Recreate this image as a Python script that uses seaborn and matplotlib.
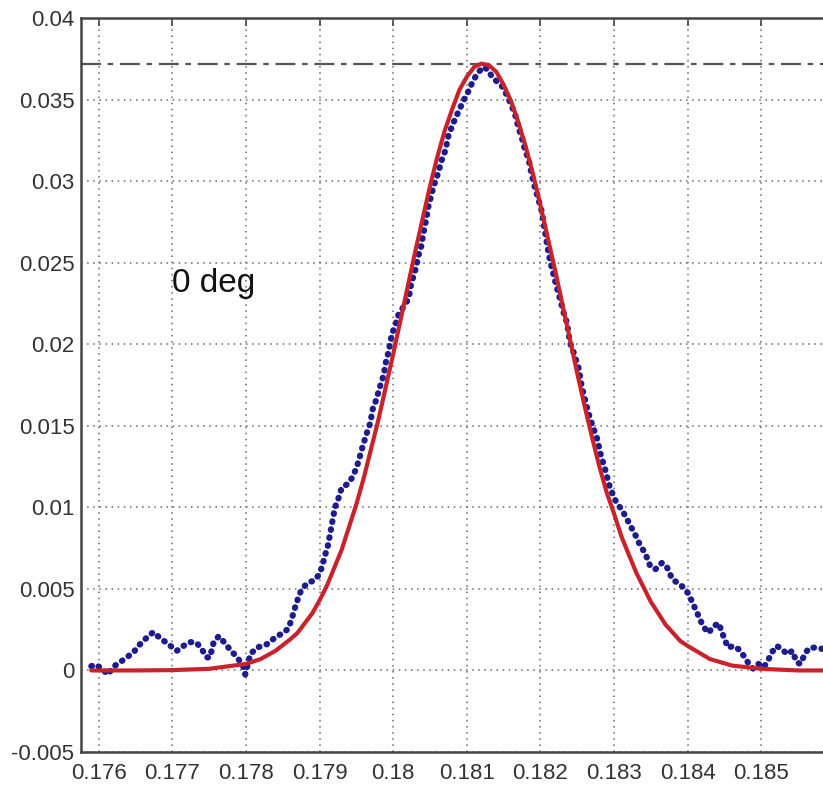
import matplotlib.pyplot as plt
import numpy as np
import pandas as pd
import seaborn as sns

meas_x = [0.17590, 0.17595, 0.17602, 0.17613, 0.17619, 0.17629, 0.17638, 0.17647,
          0.17656, 0.17665, 0.17674, 0.17683, 0.17692, 0.17706, 0.17715, 0.17724,
          0.17733, 0.17740, 0.17747, 0.17751, 0.17756, 0.17763, 0.17769, 0.17778,
          0.17788, 0.17796, 0.17799, 0.17806, 0.17815, 0.17828, 0.17842, 0.17851,
          0.17858, 0.17863, 0.17869, 0.17874, 0.17878, 0.17885, 0.17892, 0.17898,
          0.17903, 0.17907, 0.17911, 0.17914, 0.17918, 0.17921, 0.17926, 0.17930,
          0.17937, 0.17944, 0.17950, 0.17954, 0.17957, 0.17963, 0.17969, 0.17972,
          0.17977, 0.17982, 0.17987, 0.17990, 0.17994, 0.17998, 0.18003, 0.18007,
          0.18014, 0.18021, 0.18024, 0.18027, 0.18031, 0.18034, 0.18038, 0.18041,
          0.18045, 0.18048, 0.18055, 0.18061, 0.18066, 0.18071, 0.18075, 0.18082,
          0.18089, 0.18095, 0.18102, 0.18109, 0.18116, 0.18123, 0.18129, 0.18134,
          0.18141, 0.18148, 0.18154, 0.18161, 0.18166, 0.18170, 0.18175, 0.18179,
          0.18184, 0.18188, 0.18193, 0.18197, 0.18202, 0.18205, 0.18209, 0.18213,
          0.18218, 0.18222, 0.18227, 0.18231, 0.18236, 0.18240, 0.18245, 0.18252,
          0.18256, 0.18261, 0.18265, 0.18270, 0.18277, 0.18282, 0.18288, 0.18293,
          0.18299, 0.18304, 0.18310, 0.18316, 0.18323, 0.18330, 0.18335, 0.18342,
          0.18349, 0.18356, 0.18365, 0.18372, 0.18379, 0.18385, 0.18394, 0.18401,
          0.18408, 0.18415, 0.18421, 0.18428, 0.18435, 0.18442, 0.18446, 0.18451,
          0.18455, 0.18462, 0.18469, 0.18476, 0.18483, 0.18489, 0.18496, 0.18503,
          0.18508, 0.18514, 0.18521, 0.18528, 0.18535, 0.18542, 0.18548, 0.18553,
          0.18560, 0.18566, 0.18576, 0.18584, 0.18592]
meas_y = [0.00026, 0.00037, 0.00018, -0.00025, 0.00020, 0.00050, 0.00080, 0.00110,
          0.00160, 0.00200, 0.00235, 0.00200, 0.00170, 0.00120, 0.00150, 0.00174,
          0.00170, 0.00130, 0.00080, 0.00080, 0.00170, 0.00210, 0.00180, 0.00130,
          0.00080, 0.00030, -0.00025, 0.00100, 0.00140, 0.00160, 0.00210, 0.00230,
          0.00260, 0.00330, 0.00420, 0.00480, 0.00510, 0.00540, 0.00550, 0.00580,
          0.00630, 0.00700, 0.00760, 0.00830, 0.00930, 0.01000, 0.01060, 0.01120,
          0.01140, 0.01180, 0.01240, 0.01300, 0.01350, 0.01440, 0.01520, 0.01600,
          0.01660, 0.01740, 0.01810, 0.01890, 0.01960, 0.02060, 0.02120, 0.02180,
          0.02230, 0.02280, 0.02360, 0.02410, 0.02470, 0.02540, 0.02600, 0.02680,
          0.02770, 0.02850, 0.02970, 0.03050, 0.03130, 0.03190, 0.03280, 0.03360,
          0.03430, 0.03490, 0.03550, 0.03620, 0.03670, 0.03700, 0.03680, 0.03640,
          0.03610, 0.03580, 0.03530, 0.03460, 0.03400, 0.03330, 0.03260, 0.03190,
          0.03130, 0.03040, 0.02950, 0.02890, 0.02810, 0.02720, 0.02610, 0.02510,
          0.02420, 0.02350, 0.02270, 0.02200, 0.02130, 0.02010, 0.01950, 0.01850,
          0.01740, 0.01650, 0.01580, 0.01510, 0.01420, 0.01320, 0.01230, 0.01140,
          0.01070, 0.01020, 0.00990, 0.00940, 0.00880, 0.00820, 0.00770, 0.00720,
          0.00640, 0.00620, 0.00660, 0.00630, 0.00560, 0.00540, 0.00510, 0.00470,
          0.00400, 0.00330, 0.00270, 0.00230, 0.00270, 0.00290, 0.00240, 0.00180,
          0.00140, 0.00150, 0.00130, 0.00090, 0.00040, 0.00010, 0.00040, 0.00020,
          0.00050, 0.00110, 0.00150, 0.00130, 0.00100, 0.00120, 0.00050, 0.00040,
          0.00110, 0.00140, 0.00140, 0.00130, 0.00120]

# Fitted curve (red)
fit_x = [0.1759, 0.1765, 0.1770, 0.1775, 0.1780, 0.1782, 0.1784, 0.1786, 0.1787,
         0.1788, 0.1789, 0.1790, 0.1791, 0.1792, 0.1793, 0.1794, 0.1795, 0.1796,
         0.1797, 0.1798, 0.1799, 0.1800, 0.1801, 0.1802, 0.1803, 0.1804, 0.1805,
         0.1806, 0.1807, 0.1808, 0.1809, 0.1810, 0.1811, 0.1812, 0.1813, 0.1814,
         0.1815, 0.1816, 0.1817, 0.1818, 0.1819, 0.1820, 0.1821, 0.1822, 0.1823,
         0.1824, 0.1825, 0.1826, 0.1827, 0.1828, 0.1829, 0.1830, 0.1831, 0.1832,
         0.1833, 0.1834, 0.1835, 0.1836, 0.1837, 0.1838, 0.1839, 0.1840, 0.1843,
         0.1846, 0.1850, 0.1855, 0.1860]
fit_y = [0.0000, 0.0000, 0.00002, 0.0001, 0.0004, 0.0007, 0.0012, 0.0019, 0.0023,
         0.0029, 0.0035, 0.0043, 0.0052, 0.0063, 0.0074, 0.0088, 0.0102, 0.0118,
         0.0136, 0.0154, 0.0174, 0.0194, 0.0215, 0.0236, 0.0257, 0.0277, 0.0297,
         0.0315, 0.0331, 0.0344, 0.0356, 0.0364, 0.0370, 0.0372, 0.0371, 0.0367,
         0.0359, 0.0349, 0.0336, 0.0321, 0.0304, 0.0285, 0.0265, 0.0245, 0.0224,
         0.0203, 0.0182, 0.0162, 0.0143, 0.0125, 0.0109, 0.0096, 0.0082, 0.0071,
         0.0060, 0.0051, 0.0042, 0.0035, 0.0028, 0.0023, 0.0018, 0.0015, 0.0007,
         0.0003, 0.0001, 0.0000, 0.0000]

peak_level = 0.0372
x_ticks = [0.176, 0.177, 0.178, 0.179, 0.180, 0.181, 0.182, 0.183, 0.184, 0.185]
y_ticks = [-0.005, 0.0, 0.005, 0.01, 0.015, 0.02, 0.025, 0.03, 0.035, 0.04]
note = "0 deg"

sns.set_style("white")
plt.rcParams['font.family'] = ['Liberation Sans', 'DejaVu Sans']

fig = plt.figure(figsize=(8.23, 7.92), dpi=100)
ax = fig.add_axes([0.0989, 0.0505, 0.9157, 0.9268])

meas = pd.DataFrame({"x": meas_x, "y": meas_y})
fit = pd.DataFrame({"x": fit_x, "y": fit_y})

# Measured data as big round dots
sns.lineplot(data=meas, x="x", y="y", ax=ax, sort=False, estimator=None,
             color="#1c1c8e", linewidth=4.5, linestyle=(0, (0.1, 1.2)),
             dash_capstyle="round", zorder=3)
# Gaussian fit
sns.lineplot(data=fit, x="x", y="y", ax=ax, sort=False, estimator=None,
             color="#c8232b", linewidth=3.0, zorder=4)

# Peak level line
ax.axhline(peak_level, color="#555555", linewidth=1.6,
           linestyle=(0, (9, 3, 2.5, 3)), zorder=2)

ax.text(0.1770, 0.0232, note, fontsize=24, color="#111111",
        ha="left", va="baseline")

ax.set_xlim(0.175765, 0.186)
ax.set_ylim(-0.005, 0.04)
ax.set_xticks(x_ticks)
ax.set_yticks(y_ticks)
ax.set_xticklabels([f"{round(v, 3):g}" for v in x_ticks])
ax.set_yticklabels([f"{round(v, 3):g}" for v in y_ticks])
ax.set_xlabel("")
ax.set_ylabel("")

ax.grid(True, color="#666666", linestyle=(0, (1, 3)), linewidth=1.1, zorder=0)
ax.set_axisbelow(True)

for side in ["left", "bottom", "top", "right"]:
    ax.spines[side].set_visible(True)
    ax.spines[side].set_color("#444444")
    ax.spines[side].set_linewidth(1.8)

ax.tick_params(direction="in", length=6, width=1.2, color="#444444",
               top=True, right=True, labelsize=16, labelcolor="#333333")
ax.tick_params(axis="x", pad=8)
ax.tick_params(axis="y", pad=5)

fig.savefig("out.png", dpi=100)
